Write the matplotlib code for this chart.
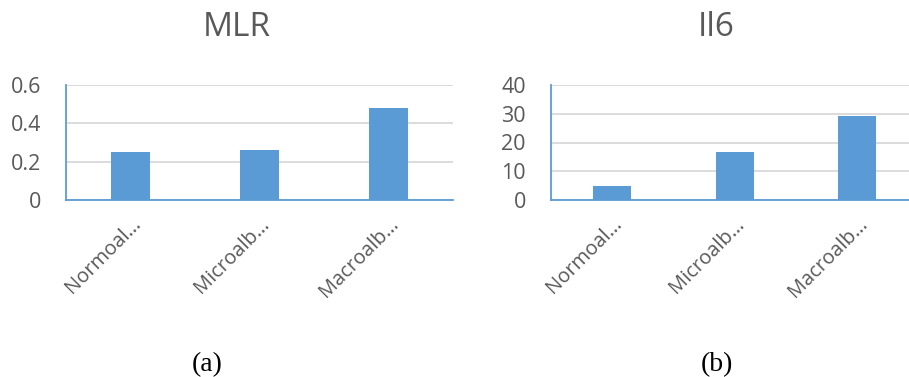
import matplotlib
matplotlib.use("Agg")
import matplotlib.pyplot as plt
from matplotlib.transforms import ScaledTranslation

categories = ["Normoal…", "Microalb…", "Macroalb…"]
mlr_values = [0.25, 0.26, 0.48]
il6_values = [4.7, 16.6, 29.3]
mlr_ticks = [0, 0.2, 0.4, 0.6]
mlr_tick_labels = ["0", "0.2", "0.4", "0.6"]
il6_ticks = [0, 10, 20, 30, 40]
il6_tick_labels = ["0", "10", "20", "30", "40"]

BAR = "#5B9BD5"
GRID = "#D9D9D9"
TEXT = "#595959"
FONT = "Open Sans"

W, H = 909, 377
fig = plt.figure(figsize=(W / 100, H / 100), dpi=100)


def panel(left_px, width_px, values, ticks, tick_labels, ymax, title, title_x, caption, caption_x):
    ax = fig.add_axes([left_px / W, (H - 200) / H, width_px / W, 115 / H])
    x = range(len(categories))
    ax.bar(x, values, width=0.31, color=BAR, zorder=3)
    ax.set_xlim(-0.5, len(categories) - 0.5)
    ax.set_ylim(0, ymax)
    ax.set_yticks(ticks)
    ax.set_yticklabels(tick_labels, fontfamily=FONT, fontsize=15.5, color=TEXT)
    ax.set_xticks(list(x))
    ax.set_xticklabels(categories, fontfamily=FONT, fontsize=14.5, color=TEXT,
                       rotation=45, ha="right", va="top", rotation_mode="anchor")
    shift = ScaledTranslation(14 / 100, 0, fig.dpi_scale_trans)
    for lbl in ax.get_xticklabels():
        lbl.set_transform(lbl.get_transform() + shift)
    ax.tick_params(axis="both", length=0)
    ax.tick_params(axis="y", pad=18)
    ax.tick_params(axis="x", pad=10)
    ax.yaxis.grid(True, color=GRID, linewidth=1.3, zorder=0)
    for s in ("top", "right"):
        ax.spines[s].set_visible(False)
    for s in ("left", "bottom"):
        ax.spines[s].set_color(BAR)
        ax.spines[s].set_linewidth(1.3)
    fig.text(title_x / W, 1 - 27 / H, title, fontfamily=FONT, fontsize=24,
             color=TEXT, ha="center", va="center")
    fig.text(caption_x / W, 1 - 365 / H, caption, fontfamily="Liberation Serif",
             fontsize=20, color="black", ha="center", va="center")
    return ax


panel(66, 387, mlr_values, mlr_ticks, mlr_tick_labels, 0.6, "MLR", 237, "(a)", 207)
panel(551, 367.5, il6_values, il6_ticks, il6_tick_labels, 40, "Il6", 716, "(b)", 717)

fig.savefig("out.png", dpi=100)
